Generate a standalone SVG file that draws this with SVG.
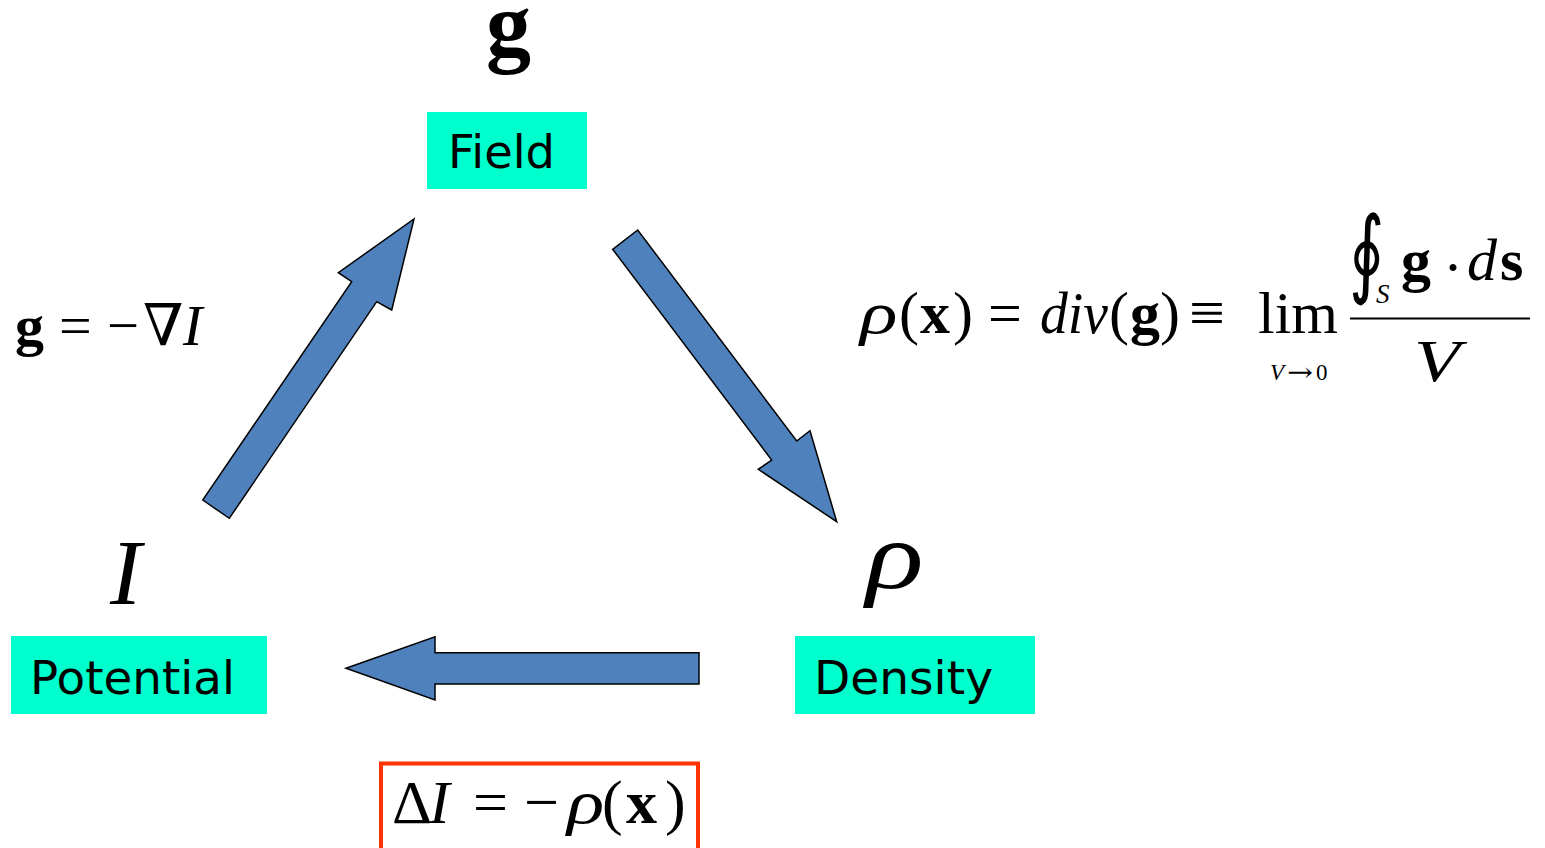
<svg xmlns="http://www.w3.org/2000/svg" width="1545" height="848" viewBox="0 0 1545 848">
<style>
.box{fill:#00FFCC}
.lbl{font-family:"DejaVu Sans",Verdana,sans-serif;font-size:45.5px;fill:#000}
.m{font-family:"Liberation Serif","DejaVu Serif",serif;fill:#000}
.i{font-style:italic}
.b{font-weight:bold}
.arr{fill:#4F81BD;stroke:#000;stroke-width:1.5;stroke-linejoin:miter}
</style>
<rect width="1545" height="848" fill="#fff"/>
<g id="field">
<rect class="box" x="427" y="112" width="160" height="77"/>
<text class="lbl" x="448" y="168" textLength="107" lengthAdjust="spacingAndGlyphs">Field</text>
<text class="m b" x="486" y="56" font-size="90">g</text>
</g>
<g id="potential">
<rect class="box" x="11" y="636" width="256" height="78"/>
<text class="lbl" x="30" y="694" textLength="205" lengthAdjust="spacingAndGlyphs">Potential</text>
<text class="m i" x="110" y="604" font-size="94">I</text>
</g>
<g id="density">
<rect class="box" x="795" y="636" width="240" height="78"/>
<text class="lbl" x="814" y="694" textLength="179" lengthAdjust="spacingAndGlyphs">Density</text>
<text class="m i" font-size="96" transform="translate(866,588) scale(1.25,1)">ρ</text>
</g>
<g id="connectors">
<polygon class="arr" points="202.7,500 229.3,518.3 376.7,301.7 391.7,310 414,219 338.3,272.7 351.7,281.7"/>
<polygon class="arr" points="612.7,249.3 637.7,230 796.7,441 810,430.7 836.7,521.7 758.3,469.3 771.7,460"/>
<polygon class="arr" points="346,668.3 435,636.7 435,652.7 699,652.7 699,684 435,684 435,700"/>
</g>
<g id="formula-gradient" font-size="58">
<text class="m b" x="15" y="345">g</text>
<text class="m" x="59" y="345">=</text>
<text class="m" x="107" y="345" textLength="32" lengthAdjust="spacingAndGlyphs">−</text>
<text class="m" x="143" y="345">∇</text>
<text class="m i" x="183" y="345">I</text>
</g>
<g id="formula-divergence" font-size="60">
<text class="m i" transform="translate(860,333) scale(1.3,1)">ρ</text>
<text class="m" x="899" y="333">(</text>
<text class="m b" x="920" y="333">x</text>
<text class="m" x="953" y="333">)</text>
<text class="m" x="988" y="333">=</text>
<text class="m i" x="1040" y="333" textLength="68" lengthAdjust="spacingAndGlyphs">div</text>
<text class="m" x="1109" y="333">(</text>
<text class="m b" x="1130" y="333">g</text>
<text class="m" x="1160" y="333">)</text>
<text class="m" x="1189" y="333" textLength="36" lengthAdjust="spacingAndGlyphs">≡</text>
<text class="m" x="1258" y="333">lim</text>
<text class="m i" x="1270" y="380" font-size="23">V</text>
<text x="1287" y="381" font-size="26" font-family="DejaVu Serif,serif" textLength="26" lengthAdjust="spacingAndGlyphs">→</text>
<text class="m" x="1316" y="380" font-size="23">0</text>
<text class="m" font-size="80" transform="translate(1349,285) scale(0.85,1.2)">∮</text>
<text class="m i" x="1376" y="303" font-size="27">S</text>
<text class="m b" x="1401" y="280">g</text>
<text class="m" x="1443" y="287">·</text>
<text class="m i" x="1467" y="280">d</text>
<text class="m b" x="1500" y="280">s</text>
<line x1="1350" y1="318.5" x2="1530" y2="318.5" stroke="#000" stroke-width="2"/>
<text class="m i" x="1414" y="381" textLength="46" lengthAdjust="spacingAndGlyphs">V</text>
</g>
<g id="formula-laplace" font-size="62">
<rect x="381" y="763.5" width="317" height="95" fill="none" stroke="#FF3300" stroke-width="4"/>
<text class="m" x="392" y="823">Δ</text>
<text class="m i" x="429" y="823">I</text>
<text class="m" x="473" y="823">=</text>
<text class="m" x="524" y="823" textLength="35" lengthAdjust="spacingAndGlyphs">−</text>
<text class="m i" transform="translate(567,823) scale(1.25,1)">ρ</text>
<text class="m" x="602" y="823">(</text>
<text class="m b" x="626" y="823">x</text>
<text class="m" x="665" y="823">)</text>
</g>
</svg>
